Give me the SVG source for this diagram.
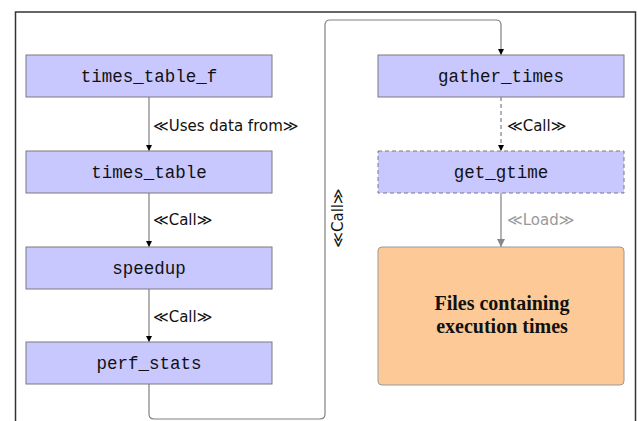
<svg xmlns="http://www.w3.org/2000/svg" width="638" height="421" viewBox="0 0 638 421">
<style>
.box{fill:#c8c8ff;stroke:#7a7a7a;stroke-width:1}
.dash{stroke-dasharray:4 3}
.mono{font-family:"Liberation Mono","DejaVu Sans Mono",monospace;font-size:17.5px;fill:#111;text-anchor:middle}
.lbl{font-family:"DejaVu Sans","Liberation Sans",sans-serif;font-size:15px;fill:#111}
.edge{fill:none;stroke:#808080;stroke-width:1.2}
.serif{font-family:"Liberation Serif","DejaVu Serif",serif;font-weight:bold;font-size:20px;fill:#111;text-anchor:middle}
</style>
<defs>
<marker id="ah" viewBox="0 0 8 8" refX="8" refY="4" markerWidth="6" markerHeight="6" markerUnits="userSpaceOnUse" orient="auto"><path d="M0,0 L8,4 L0,8 z" fill="#000"/></marker>
<marker id="ahg" viewBox="0 0 8 8" refX="8" refY="4" markerWidth="8" markerHeight="8" markerUnits="userSpaceOnUse" orient="auto"><path d="M0,0 L8,4 L0,8 z" fill="#888"/></marker>
</defs>
<rect x="0" y="0" width="638" height="421" fill="#fff"/>
<path d="M15.5,421 V12 H635.5 V421" fill="none" stroke="#333" stroke-width="1.5"/>
<g id="connectors">
<path class="edge" d="M149,97 V151" marker-end="url(#ah)"/>
<path class="edge" d="M149,193 V247" marker-end="url(#ah)"/>
<path class="edge" d="M149,289 V342" marker-end="url(#ah)"/>
<path class="edge" d="M149,384 V414 Q149,419 154,419 H320 Q325,419 325,414 V25 Q325,20 330,20 H496 Q501,20 501,25 V55" marker-end="url(#ah)"/>
<path class="edge dash" d="M501,97 V151" marker-end="url(#ah)"/>
<path class="edge" d="M501,193 V247" stroke="#888" marker-end="url(#ahg)"/>
<text class="lbl" x="153" y="131">≪Uses data from≫</text>
<text class="lbl" x="153" y="225">≪Call≫</text>
<text class="lbl" x="153" y="322">≪Call≫</text>
<text class="lbl" x="507" y="131">≪Call≫</text>
<text class="lbl" x="507" y="225" style="fill:#999">≪Load≫</text>
<text class="lbl" transform="translate(343,218) rotate(-90)" text-anchor="middle">≪Call≫</text>
</g>
<g id="times_table_f"><rect class="box" x="26" y="55" width="246" height="42"/><text class="mono" x="149" y="82">times_table_f</text></g>
<g id="times_table"><rect class="box" x="26" y="151" width="246" height="42"/><text class="mono" x="149" y="178">times_table</text></g>
<g id="speedup"><rect class="box" x="26" y="247" width="246" height="42"/><text class="mono" x="149" y="274">speedup</text></g>
<g id="perf_stats"><rect class="box" x="26" y="342" width="246" height="42"/><text class="mono" x="149" y="369">perf_stats</text></g>
<g id="gather_times"><rect class="box" x="378" y="55" width="246" height="42"/><text class="mono" x="501" y="82">gather_times</text></g>
<g id="get_gtime"><rect class="box dash" x="378" y="151" width="246" height="42"/><text class="mono" x="501" y="178">get_gtime</text></g>
<g id="files"><rect x="378" y="247" width="246" height="138" rx="4" fill="#fdca97" stroke="#999" stroke-width="1"/><text class="serif" x="502" y="310">Files containing</text><text class="serif" x="502" y="333">execution times</text></g>
</svg>
